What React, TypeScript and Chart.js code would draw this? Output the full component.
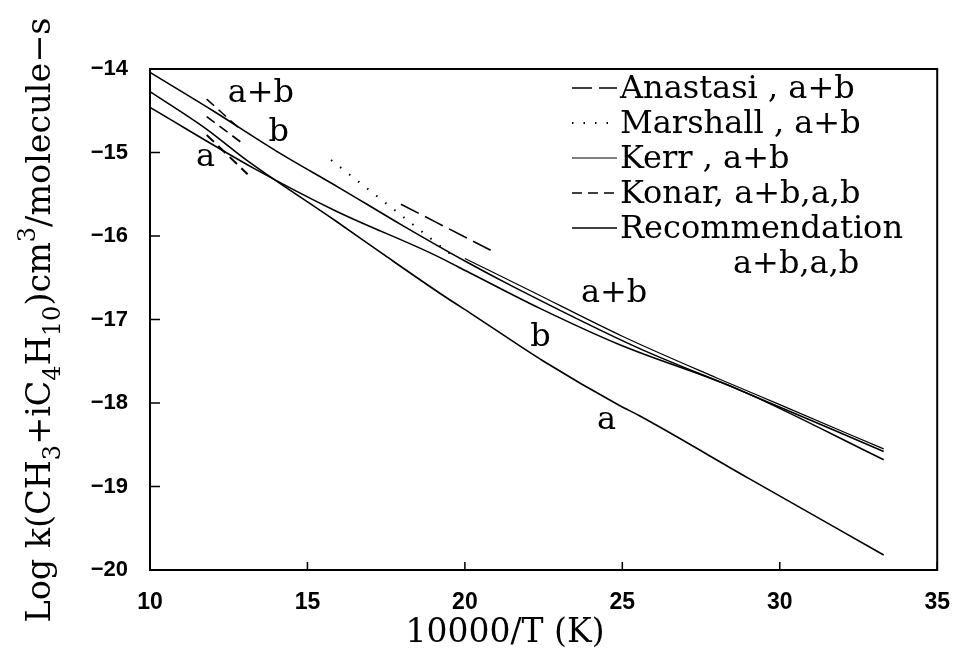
import React, { useEffect, useRef } from "react";
import { Chart, registerables } from "chart.js";

Chart.register(...registerables);

// ---- data (10000/T, log k) ----
const recABx = [10, 12, 14, 16, 18, 20, 21.5, 25.5, 28.7, 33.3];
const recABy = [-14.04, -14.5, -14.98, -15.42, -15.87, -16.3, -16.6, -17.34, -17.84, -18.58];

const recAx = [10, 11.76, 13.1, 15.9, 17.45, 19.42, 20.16, 22.5, 24.91, 25.53, 29, 33.3];
const recAy = [-14.27, -14.71, -15.1, -15.82, -16.23, -16.74, -16.92, -17.5, -18.03, -18.15, -18.9, -19.82];

const recBx = [10, 13.3, 15.9, 19, 20.15, 22.4, 24.9, 28.7, 33.3];
const recBy = [-14.46, -15.19, -15.7, -16.22, -16.44, -16.87, -17.3, -17.84, -18.68];

const kerrX = [20, 22, 25, 28, 30, 33.3];
const kerrY = [-16.27, -16.64, -17.2, -17.7, -18.02, -18.55];

const anastasiX = [17.97, 20.82];
const anastasiY = [-15.62, -16.17];

const marshallX = [15.75, 19.52];
const marshallY = [-15.09, -16.21];

const konarABx = [11.8, 12.8];
const konarABy = [-14.36, -14.7];
const konarBx = [11.8, 12.9];
const konarBy = [-14.57, -14.88];
const konarAx = [11.8, 13.1];
const konarAy = [-14.79, -15.26];

const xTicks = [10, 15, 20, 25, 30, 35];
const yTicks = [-20, -19, -18, -17, -16, -15, -14];

const curveLabels = ["a+b", "b", "a", "a+b", "b", "a"];
const curveLabelX = [13.52, 14.09, 11.76, 24.74, 22.4, 24.5];
const curveLabelY = [-14.29, -14.76, -15.06, -16.69, -17.22, -18.21];

const legendNames = ["Anastasi , a+b", "Marshall , a+b", "Kerr , a+b", "Konar, a+b,a,b", "Recommendation"];
const legendExtra = "a+b,a,b";

const xTitle = "10000/T (K)";
const yTitleParts: { t: string; k: number }[] = [
  { t: "Log k(CH", k: 0 },
  { t: "3", k: -1 },
  { t: "+iC", k: 0 },
  { t: "4", k: -1 },
  { t: "H", k: 0 },
  { t: "10", k: -1 },
  { t: ")cm", k: 0 },
  { t: "3", k: 1 },
  { t: "/molecule\u2212s", k: 0 },
];

const pts = (xs: number[], ys: number[]) => xs.map((x, i) => ({ x, y: ys[i] }));

const SERIF = "'DejaVu Serif', serif";
const TICKFONT = "'Liberation Sans', sans-serif";

const DASH_ANA = [20, 7];
const DASH_MAR = [1.5, 10];
const DASH_KON = [10, 6];

const decorPlugin = {
  id: "decor",
  afterDraw(chart: any) {
    const ctx = chart.ctx as CanvasRenderingContext2D;
    const ca = chart.chartArea;
    const xs = chart.scales.x;
    const ys = chart.scales.y;
    ctx.save();
    ctx.strokeStyle = "#000";
    ctx.fillStyle = "#000";
    // frame
    ctx.lineWidth = 2;
    ctx.setLineDash([]);
    ctx.strokeRect(ca.left, ca.top, ca.right - ca.left, ca.bottom - ca.top);
    // inward ticks
    ctx.lineWidth = 1.5;
    ctx.beginPath();
    xTicks.forEach((v) => {
      const px = xs.getPixelForValue(v);
      ctx.moveTo(px, ca.bottom);
      ctx.lineTo(px, ca.bottom - 8);
    });
    yTicks.forEach((v) => {
      const py = ys.getPixelForValue(v);
      ctx.moveTo(ca.left, py);
      ctx.lineTo(ca.left + 10, py);
    });
    ctx.stroke();

    // curve labels
    ctx.font = `32px ${SERIF}`;
    ctx.textAlign = "center";
    ctx.textBaseline = "middle";
    curveLabels.forEach((t, i) => {
      ctx.fillText(t, xs.getPixelForValue(curveLabelX[i]), ys.getPixelForValue(curveLabelY[i]));
    });

    // legend
    const dashes = [DASH_ANA, DASH_MAR, [], DASH_KON, []];
    const widths = [1.6, 1.8, 1, 1.6, 1.6];
    const lx0 = 572, lx1 = 617, tx = 620, ly0 = 90, dy = 35;
    ctx.textAlign = "left";
    ctx.font = `32px ${SERIF}`;
    legendNames.forEach((name, i) => {
      const y = ly0 + i * dy;
      ctx.setLineDash(dashes[i]);
      ctx.lineWidth = widths[i];
      ctx.beginPath();
      ctx.moveTo(lx0, y - 2);
      ctx.lineTo(lx1, y - 2);
      ctx.stroke();
      ctx.setLineDash([]);
      ctx.fillText(name, tx, y);
    });
    ctx.fillText(legendExtra, 733, ly0 + 5 * dy);

    // x title
    ctx.font = `33px ${SERIF}`;
    ctx.textAlign = "center";
    ctx.textBaseline = "alphabetic";
    ctx.fillText(xTitle, 505, 642);

    // y title (rotated, with sub/superscripts), fitted to its length in the reference
    const base = 29;
    const measure = (S: number) => {
      let tot = 0;
      yTitleParts.forEach((p) => {
        ctx.font = `${p.k === 0 ? S : S * 0.72}px ${SERIF}`;
        tot += ctx.measureText(p.t).width;
      });
      return tot;
    };
    const S = base * (605 / measure(base));
    const total = measure(S);
    ctx.translate(50, 320);
    ctx.rotate(-Math.PI / 2);
    ctx.textAlign = "left";
    let cx = -total / 2;
    yTitleParts.forEach((p) => {
      ctx.font = `${p.k === 0 ? S : S * 0.72}px ${SERIF}`;
      const off = p.k === -1 ? S * 0.3 : p.k === 1 ? -S * 0.45 : 0;
      ctx.fillText(p.t, cx, off);
      cx += ctx.measureText(p.t).width;
    });
    ctx.restore();
  },
};

export default function App() {
  const ref = useRef<HTMLCanvasElement | null>(null);
  useEffect(() => {
    if (!ref.current) return;
    const solid = (data: any, w = 1.6) => ({
      data,
      borderColor: "#000",
      borderWidth: w,
      pointRadius: 0,
      fill: false,
      cubicInterpolationMode: "monotone" as const,
    });
    const chart = new Chart(ref.current, {
      type: "line",
      data: {
        datasets: [
          { label: "Recommendation a+b", ...solid(pts(recABx, recABy)) },
          { label: "Recommendation a", ...solid(pts(recAx, recAy)) },
          { label: "Recommendation b", ...solid(pts(recBx, recBy)) },
          { label: "Kerr", ...solid(pts(kerrX, kerrY), 1.2) },
          { label: "Anastasi", ...solid(pts(anastasiX, anastasiY)), borderDash: DASH_ANA },
          { label: "Marshall", ...solid(pts(marshallX, marshallY)), borderDash: DASH_MAR, borderWidth: 2 },
          { label: "Konar a+b", ...solid(pts(konarABx, konarABy)), borderDash: DASH_KON },
          { label: "Konar b", ...solid(pts(konarBx, konarBy)), borderDash: DASH_KON },
          { label: "Konar a", ...solid(pts(konarAx, konarAy)), borderDash: DASH_KON, borderWidth: 2 },
        ],
      },
      options: {
        animation: false,
        responsive: true,
        maintainAspectRatio: false,
        layout: { padding: { left: 0, right: 14, top: 69, bottom: 0 } },
        plugins: { legend: { display: false }, tooltip: { enabled: false } },
        scales: {
          x: {
            type: "linear",
            min: 10,
            max: 35,
            afterFit: (s: any) => { s.height = 86; },
            afterBuildTicks: (s: any) => { s.ticks = xTicks.map((v) => ({ value: v })); },
            grid: { display: false, drawTicks: false },
            border: { display: false },
            ticks: { color: "#000", padding: 19, font: { family: TICKFONT, weight: "bold", size: 23 } },
          },
          y: {
            type: "linear",
            min: -20,
            max: -14,
            afterFit: (s: any) => { s.width = 150; },
            afterBuildTicks: (s: any) => { s.ticks = yTicks.map((v) => ({ value: v })); },
            grid: { display: false, drawTicks: false },
            border: { display: false },
            ticks: {
              color: "#000",
              padding: 22,
              font: { family: TICKFONT, weight: "bold", size: 22 },
              callback: (v: any) => (Number(v) < 0 ? "\u2212" + Math.abs(Number(v)) : String(v)),
            },
          },
        },
      },
      plugins: [decorPlugin],
    });
    return () => chart.destroy();
  }, []);
  return (
    <div style={{ position: "fixed", left: 0, top: 0, width: 969, height: 656, background: "#fff" }}>
      <canvas ref={ref} />
    </div>
  );
}
